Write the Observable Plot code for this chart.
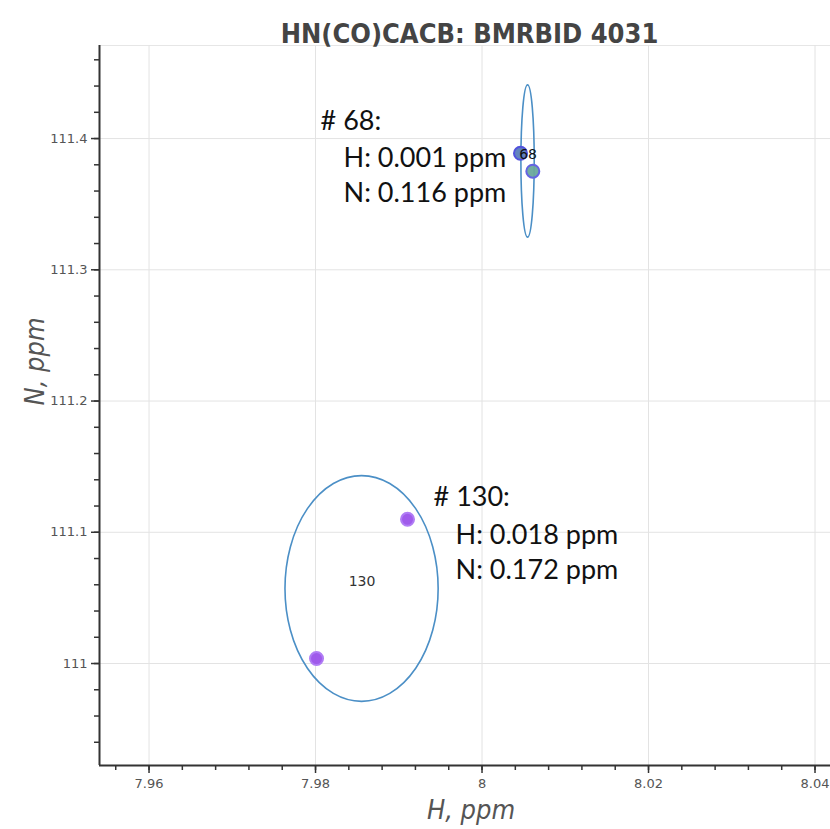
<!DOCTYPE html>
<html><head><meta charset="utf-8">
<script src="https://cdn.jsdelivr.net/npm/d3@7"></script>
<script src="https://cdn.jsdelivr.net/npm/@observablehq/plot@0.6"></script>
<style>body{margin:0;background:#fff;} svg{display:block;}</style>
</head><body><div id="chart"></div>
<script>
// ---- data ----
const titleText = "HN(CO)CACB: BMRBID 4031";
const xLabel = "H, ppm";
const yLabel = "N, ppm";
const xDomain = [7.95405, 8.04186];
const yDomain = [110.9223, 111.4709];
const xTicks = [7.96, 7.98, 8, 8.02, 8.04];
const xTickLabels = ["7.96", "7.98", "8", "8.02", "8.04"];
const yTicks = [111, 111.1, 111.2, 111.3, 111.4];
const yTickLabels = ["111", "111.1", "111.2", "111.3", "111.4"];

const peakResidue = [68, 68, 130, 130];
const peakH = [8.00462, 8.00610, 7.99105, 7.98012];
const peakN = [111.3888, 111.3751, 111.1099, 111.0038];

const ellipseResidue = [68, 130];
const ellipseH = [8.00553, 7.98559];
const ellipseN = [111.3825, 111.0568];
const ellipseWidthH = [0.0016, 0.0184];
const ellipseWidthN = [0.116, 0.172];
const annotH = ["0.001", "0.018"];
const annotN = ["0.116", "0.172"];

// ---- styles ----
const peakFill = ["#5a7cbc", "#6aa89c", "#9b52ea", "#9b52ea"];
const peakStroke = ["#5252dc", "#6464e2", "#b07cf5", "#b07cf5"];

const minorX = d3.range(0, 23).map(i => +(7.956 + i * 0.004).toFixed(3));
const minorY = d3.range(0, 27).map(i => +(110.94 + i * 0.02).toFixed(2));

const peaks = peakH.map((h, i) => ({h, n: peakN[i], res: peakResidue[i], i}));
const ellipses = ellipseH.map((h, i) => ({h, n: ellipseN[i], dh: ellipseWidthH[i], dn: ellipseWidthN[i], res: ellipseResidue[i]}));

const annFont = "Lato, 'Open Sans', sans-serif";
const condFont = "'Liberation Sans Narrow', 'DejaVu Sans Condensed', sans-serif";
function annotation(k, dxHead, dyHead, dxBody, dyBody) {
  const e = [ellipses[k]];
  return [
    Plot.text(e, {x: "h", y: "n", text: d => `# ${d.res}:`, dx: dxHead, dy: dyHead,
      textAnchor: "start", lineAnchor: "middle", fontSize: 27, fontFamily: annFont, fill: "#111"}),
    Plot.text(e, {x: "h", y: "n", text: d => `H: ${annotH[k]} ppm\nN: ${annotN[k]} ppm`, dx: dxBody, dy: dyBody,
      textAnchor: "start", lineAnchor: "middle", lineHeight: 1.3, fontSize: 27, fontFamily: annFont, fill: "#111"})
  ];
}

const chart = Plot.plot({
  width: 830,
  height: 829,
  marginLeft: 99,
  marginRight: 0,
  marginTop: 45,
  marginBottom: 64,
  style: {fontFamily: "'DejaVu Sans', sans-serif", background: "#fff"},
  x: {domain: xDomain},
  y: {domain: yDomain},
  marks: [
    Plot.frame({stroke: "#e6e6e6"}),
    Plot.gridX(xTicks, {stroke: "#e3e3e3", strokeOpacity: 1}),
    Plot.gridY(yTicks, {stroke: "#e3e3e3", strokeOpacity: 1}),
    Plot.dot(ellipses, {
      x: "h", y: "n",
      render(index, scales) {
        const g = d3.create("svg:g");
        for (const i of index) {
          const d = ellipses[i];
          const cx = scales.x(d.h), cy = scales.y(d.n);
          const rx = Math.abs(scales.x(d.h + d.dh / 2) - cx);
          const ry = Math.abs(scales.y(d.n + d.dn / 2) - cy);
          g.append("ellipse").attr("cx", cx).attr("cy", cy).attr("rx", rx).attr("ry", ry)
            .attr("fill", "none").attr("stroke", "#4b8fc6").attr("stroke-width", 1.6);
        }
        return g.node();
      }
    }),
    Plot.dot(peaks, {x: "h", y: "n", r: 6.5, fill: d => peakFill[d.i], stroke: d => peakStroke[d.i], strokeWidth: 2, fillOpacity: 0.95}),
    Plot.text(ellipses, {x: "h", y: "n", text: d => String(d.res), lineAnchor: "bottom", dy: -3,
      fontSize: 14, fill: d => d.res === 68 ? "#111" : "#333"}),
    ...annotation(0, -207.5, -40, -184.5, 12),
    ...annotation(1, 71.5, -92, 93.5, -38.5),
    Plot.ruleX([xDomain[0]], {stroke: "#333", strokeWidth: 2}),
    Plot.ruleY([yDomain[0]], {stroke: "#333", strokeWidth: 2}),
    Plot.axisX(minorX, {anchor: "bottom", tickSize: 5, tickFormat: () => "", label: null, stroke: "#333", strokeWidth: 1.5}),
    Plot.axisX(xTicks, {anchor: "bottom", tickSize: 8, tickPadding: 5, label: null, fontSize: 13,
      tickFormat: d => xTickLabels[xTicks.indexOf(d)], stroke: "#333", strokeWidth: 1.5, fill: "#555"}),
    Plot.axisY(minorY, {anchor: "left", tickSize: 5, tickFormat: () => "", label: null, stroke: "#333", strokeWidth: 1.5}),
    Plot.axisY(yTicks, {anchor: "left", tickSize: 8, tickPadding: 4, label: null, fontSize: 13,
      tickFormat: d => yTickLabels[yTicks.indexOf(d)], stroke: "#333", strokeWidth: 1.5, fill: "#555"}),
    Plot.text([titleText], {frameAnchor: "top", dx: 4.5, dy: -22, fontSize: 27, fontWeight: "bold",
      fontFamily: condFont, fill: "#444"}),
    Plot.text([xLabel], {frameAnchor: "bottom", lineAnchor: "middle", dx: 6, dy: 45, fontSize: 27, fontStyle: "italic",
      fontFamily: condFont, fill: "#555"}),
    Plot.text([yLabel], {frameAnchor: "left", lineAnchor: "middle", dx: -64, rotate: -90, fontSize: 27, fontStyle: "italic",
      fontFamily: condFont, fill: "#555"})
  ]
});
document.getElementById("chart").appendChild(chart);
</script>
</body></html>
